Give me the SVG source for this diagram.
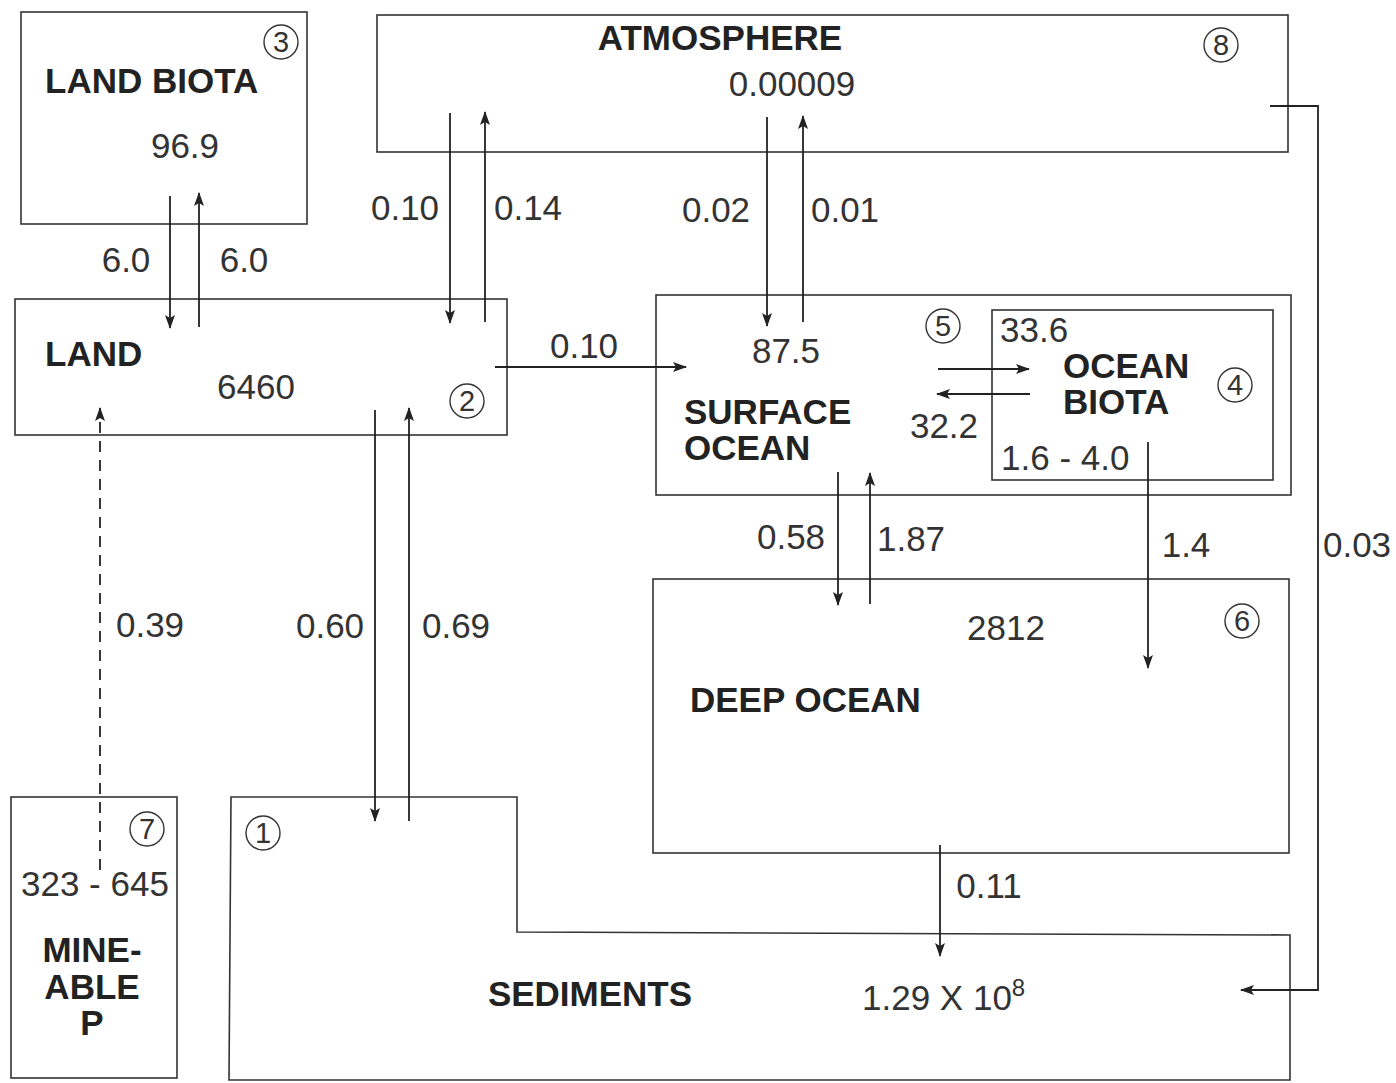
<svg xmlns="http://www.w3.org/2000/svg" width="1396" height="1083" viewBox="0 0 1396 1083">
<defs>
<marker id="ah" markerWidth="14" markerHeight="10" refX="13" refY="5" orient="auto" markerUnits="userSpaceOnUse">
<path d="M0,0 L14,5 L0,10 L3,5 Z" fill="#222"/>
</marker>
</defs>
<style>
.box{fill:none;stroke:#333;stroke-width:1.6}
.lbl{font-family:"Liberation Sans",Arial,sans-serif;font-weight:bold;font-size:35px;fill:#222}
.num{font-family:"Liberation Sans",Arial,sans-serif;font-size:35px;fill:#333}
.cn{font-family:"Liberation Sans",Arial,sans-serif;font-size:29px;fill:#333;text-anchor:middle}
.cc{fill:none;stroke:#333;stroke-width:1.4}
.ln{fill:none;stroke:#222;stroke-width:1.8;marker-end:url(#ah)}
.dash{fill:none;stroke:#222;stroke-width:1.8;stroke-dasharray:11 8;marker-end:url(#ah)}
.mid{text-anchor:middle}
</style>
<rect width="1396" height="1083" fill="#fff"/>

<g id="land-biota">
<rect class="box" x="21" y="12" width="286" height="212"/>
<text class="lbl" x="45" y="93">LAND BIOTA</text>
<text class="num mid" x="185" y="158">96.9</text>
<circle class="cc" cx="281" cy="42" r="17"/><text class="cn" x="281" y="52">3</text>
</g>

<g id="atmosphere">
<rect class="box" x="377" y="15" width="911" height="137"/>
<text class="lbl mid" x="720" y="50">ATMOSPHERE</text>
<text class="num mid" x="792" y="96">0.00009</text>
<circle class="cc" cx="1221" cy="45" r="17"/><text class="cn" x="1221" y="55">8</text>
</g>

<g id="land">
<rect class="box" x="15" y="299" width="492" height="136"/>
<text class="lbl" x="45" y="366">LAND</text>
<text class="num mid" x="256" y="399">6460</text>
<circle class="cc" cx="467" cy="401" r="17"/><text class="cn" x="467" y="411">2</text>
</g>

<g id="surface-ocean">
<rect class="box" x="656" y="295" width="635" height="200"/>
<text class="num mid" x="786" y="363">87.5</text>
<text class="lbl" x="684" y="424">SURFACE</text>
<text class="lbl" x="684" y="460">OCEAN</text>
<circle class="cc" cx="943" cy="326" r="17"/><text class="cn" x="943" y="336">5</text>
</g>

<g id="ocean-biota">
<rect class="box" x="992" y="310" width="281" height="170"/>
<text class="num" x="1000" y="342">33.6</text>
<text class="lbl" x="1063" y="378">OCEAN</text>
<text class="lbl" x="1063" y="414">BIOTA</text>
<text class="num" x="1001" y="470">1.6 - 4.0</text>
<circle class="cc" cx="1235" cy="385" r="17"/><text class="cn" x="1235" y="395">4</text>
</g>

<g id="deep-ocean">
<rect class="box" x="653" y="579" width="636" height="274"/>
<text class="num mid" x="1006" y="640">2812</text>
<text class="lbl" x="690" y="712">DEEP OCEAN</text>
<circle class="cc" cx="1242" cy="621" r="17"/><text class="cn" x="1242" y="631">6</text>
</g>

<g id="mineable-p">
<rect class="box" x="11" y="797" width="166" height="281"/>
<text class="num" x="21" y="896">323 - 645</text>
<text class="lbl mid" x="92" y="962">MINE-</text>
<text class="lbl mid" x="92" y="999">ABLE</text>
<text class="lbl mid" x="92" y="1035">P</text>
<circle class="cc" cx="147" cy="829" r="17"/><text class="cn" x="147" y="839">7</text>
</g>

<g id="sediments">
<path class="box" d="M231,797 L517,797 L517,932 L1290,935 L1290,1080 L229,1080 Z"/>
<text class="lbl mid" x="590" y="1006">SEDIMENTS</text>
<text class="num" x="862" y="1010">1.29 X 10<tspan font-size="24" dy="-14">8</tspan></text>
<circle class="cc" cx="263" cy="833" r="17"/><text class="cn" x="263" y="843">1</text>
</g>

<g id="connectors">
<line class="ln" x1="170" y1="196" x2="170" y2="328"/>
<line class="ln" x1="199" y1="327" x2="199" y2="193"/>
<line class="ln" x1="450" y1="113" x2="450" y2="323"/>
<line class="ln" x1="485" y1="322" x2="485" y2="112"/>
<line class="ln" x1="767" y1="117" x2="767" y2="326"/>
<line class="ln" x1="803" y1="322" x2="803" y2="116"/>
<line class="ln" x1="495" y1="367" x2="686" y2="367"/>
<line class="ln" x1="375" y1="410" x2="375" y2="821"/>
<line class="ln" x1="409" y1="821" x2="409" y2="408"/>
<line class="dash" x1="100" y1="870" x2="100" y2="408"/>
<line class="ln" x1="938" y1="369" x2="1029" y2="369"/>
<line class="ln" x1="1030" y1="394" x2="937" y2="394"/>
<line class="ln" x1="838" y1="472" x2="838" y2="605"/>
<line class="ln" x1="870" y1="604" x2="870" y2="473"/>
<line class="ln" x1="1148" y1="442" x2="1148" y2="668"/>
<line class="ln" x1="940" y1="845" x2="940" y2="956"/>
<polyline class="ln" points="1270,106 1318,106 1318,990 1241,990"/>
<text class="num mid" x="126" y="272">6.0</text>
<text class="num mid" x="244" y="272">6.0</text>
<text class="num mid" x="405" y="220">0.10</text>
<text class="num mid" x="528" y="220">0.14</text>
<text class="num mid" x="716" y="222">0.02</text>
<text class="num mid" x="845" y="222">0.01</text>
<text class="num mid" x="584" y="358">0.10</text>
<text class="num mid" x="944" y="438">32.2</text>
<text class="num mid" x="330" y="638">0.60</text>
<text class="num mid" x="456" y="638">0.69</text>
<text class="num mid" x="150" y="637">0.39</text>
<text class="num mid" x="791" y="549">0.58</text>
<text class="num mid" x="911" y="551">1.87</text>
<text class="num mid" x="1186" y="557">1.4</text>
<text class="num mid" x="989" y="898">0.11</text>
<text class="num mid" x="1357" y="557">0.03</text>
</g>
</svg>
